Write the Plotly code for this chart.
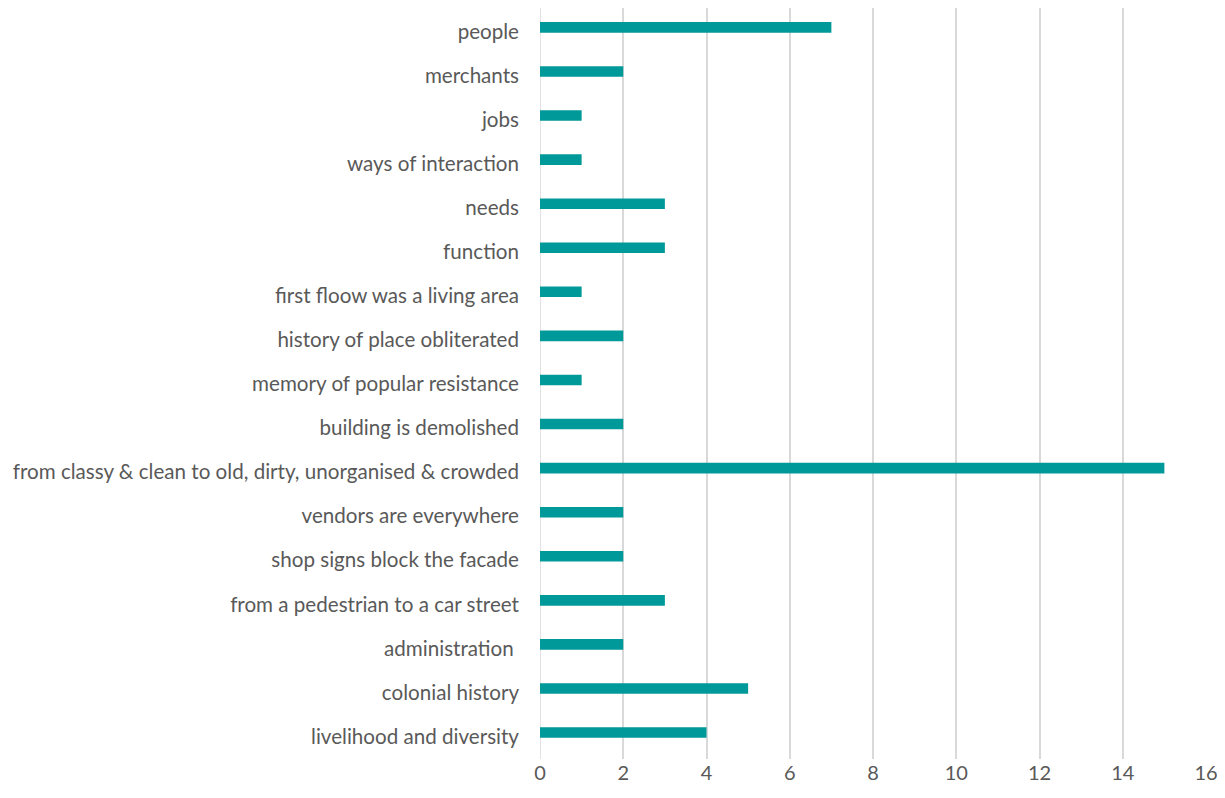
import plotly.graph_objects as go

categories = [
    "people",
    "merchants",
    "jobs",
    "ways of interaction",
    "needs",
    "function",
    "first floow was a living area",
    "history of place obliterated",
    "memory of popular resistance",
    "building is demolished",
    "from classy & clean to old, dirty, unorganised & crowded",
    "vendors are everywhere",
    "shop signs block the facade",
    "from a pedestrian to a car street",
    "administration ",
    "colonial history",
    "livelihood and diversity",
]
values = [7, 2, 1, 1, 3, 3, 1, 2, 1, 2, 15, 2, 2, 3, 2, 5, 4]
x_ticks = [0, 2, 4, 6, 8, 10, 12, 14, 16]

fig = go.Figure(
    go.Bar(
        y=categories,
        x=values,
        orientation="h",
        marker=dict(color="#009999", line=dict(width=0)),
    )
)

FONT = "Lato, Open Sans, sans-serif"
fig.update_layout(
    width=1225,
    height=798,
    margin=dict(l=532, r=27, t=0, b=47, autoexpand=False),
    plot_bgcolor="white",
    paper_bgcolor="white",
    bargap=0.76,
    showlegend=False,
    font=dict(family=FONT, size=20.6, color="#595959"),
)
fig.update_xaxes(
    range=[0, 16.0],
    tickvals=x_ticks,
    showgrid=True,
    gridcolor="#d9d9d9",
    gridwidth=1.5,
    zeroline=False,
    showline=False,
    ticks="",
    automargin=False,
    tickfont=dict(family=FONT, size=20, color="#595959"),
)
fig.update_yaxes(
    categoryorder="array",
    categoryarray=categories[::-1],
    range=[-0.6, 16.44],
    showgrid=False,
    zeroline=False,
    showline=False,
    ticks="",
    automargin=False,
    ticklabelstandoff=20,
    ticklabelshift=4,
    tickfont=dict(family=FONT, size=20.6, color="#595959"),
)
fig.add_shape(type="line", xref="x", yref="paper", x0=0, x1=0, y0=0, y1=1,
              line=dict(color="#d9d9d9", width=1.5), layer="below")

fig.write_html("out.html")
